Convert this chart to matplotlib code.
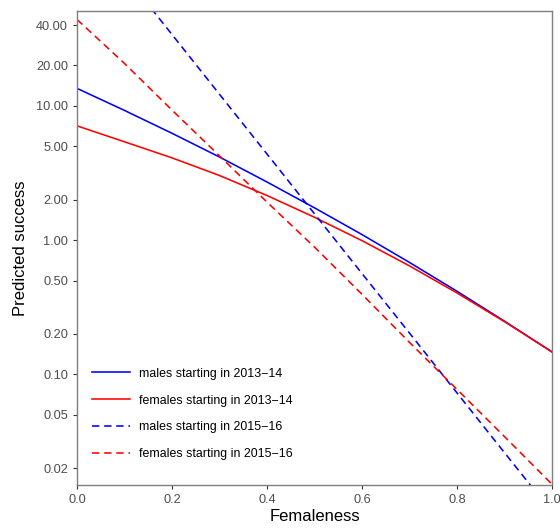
import matplotlib.pyplot as plt

plt.rcParams['font.family'] = ['Liberation Sans', 'DejaVu Sans']

femaleness = [0.0, 0.1, 0.2, 0.3, 0.4, 0.5, 0.6, 0.7, 0.8, 0.9, 1.0]

# predicted success per cohort
males_1314 = [13.5, 9.25, 6.25, 4.16, 2.71, 1.74, 1.10, 0.682, 0.416, 0.249, 0.147]
females_1314 = [7.10, 5.40, 4.10, 3.03, 2.15, 1.48, 0.991, 0.643, 0.404, 0.247, 0.147]
males_1516 = [263, 94.6, 34.0, 12.2, 4.38, 1.57, 0.564, 0.203, 0.0728, 0.0261, 0.0094]
females_1516 = [44.0, 20.7, 9.3, 4.24, 1.92, 0.887, 0.395, 0.173, 0.0773, 0.0344, 0.0152]

yticks = [0.02, 0.05, 0.10, 0.20, 0.50, 1.00, 2.00, 5.00, 10.00, 20.00, 40.00]
xticks = [0.0, 0.2, 0.4, 0.6, 0.8, 1.0]

fig = plt.figure(figsize=(5.6, 5.29), dpi=100)
ax = fig.add_axes([77 / 560, 1 - 485 / 529, 475 / 560, 474 / 529])

lw = 1.15
dash = (0, (4.6, 3.0))
ax.plot(femaleness, males_1314, color='#0000FF', lw=lw, label='males starting in 2013\u221214')
ax.plot(femaleness, females_1314, color='#FF0000', lw=lw, label='females starting in 2013\u221214')
ax.plot(femaleness, males_1516, color='#0000FF', lw=lw, ls=dash, label='males starting in 2015\u221216')
ax.plot(femaleness, females_1516, color='#FF0000', lw=lw, ls=dash, label='females starting in 2015\u221216')

ax.set_yscale('log')
ax.set_xlim(0, 1)
ax.set_ylim(0.0150, 50.9)
ax.set_yticks(yticks)
ax.set_yticklabels([f'{v:.2f}' for v in yticks])
ax.yaxis.set_minor_locator(plt.NullLocator())
ax.set_xticks(xticks)
ax.set_xticklabels([f'{v:.1f}' for v in xticks])

for s in ax.spines.values():
    s.set_color('#7f7f7f')
    s.set_linewidth(1.0)
ax.tick_params(axis='both', length=3, width=0.8, color='#333333',
               labelsize=9.2, labelcolor='#4d4d4d', pad=3.5)

ax.set_xlabel('Femaleness', fontsize=12)
ax.set_ylabel('Predicted success', fontsize=12)
ax.xaxis.set_label_coords(0.5, (485 - 509) / 474)
ax.yaxis.set_label_coords((28 - 77) / 475, 0.5)

ax.legend(loc='center left', bbox_to_anchor=(92 / 560, 1 - 414 / 529),
          bbox_transform=fig.transFigure, frameon=False, fontsize=8.9,
          handlelength=3.1, handletextpad=0.73, labelspacing=1.2,
          borderpad=0, borderaxespad=0)

fig.savefig('out.png', dpi=100)
